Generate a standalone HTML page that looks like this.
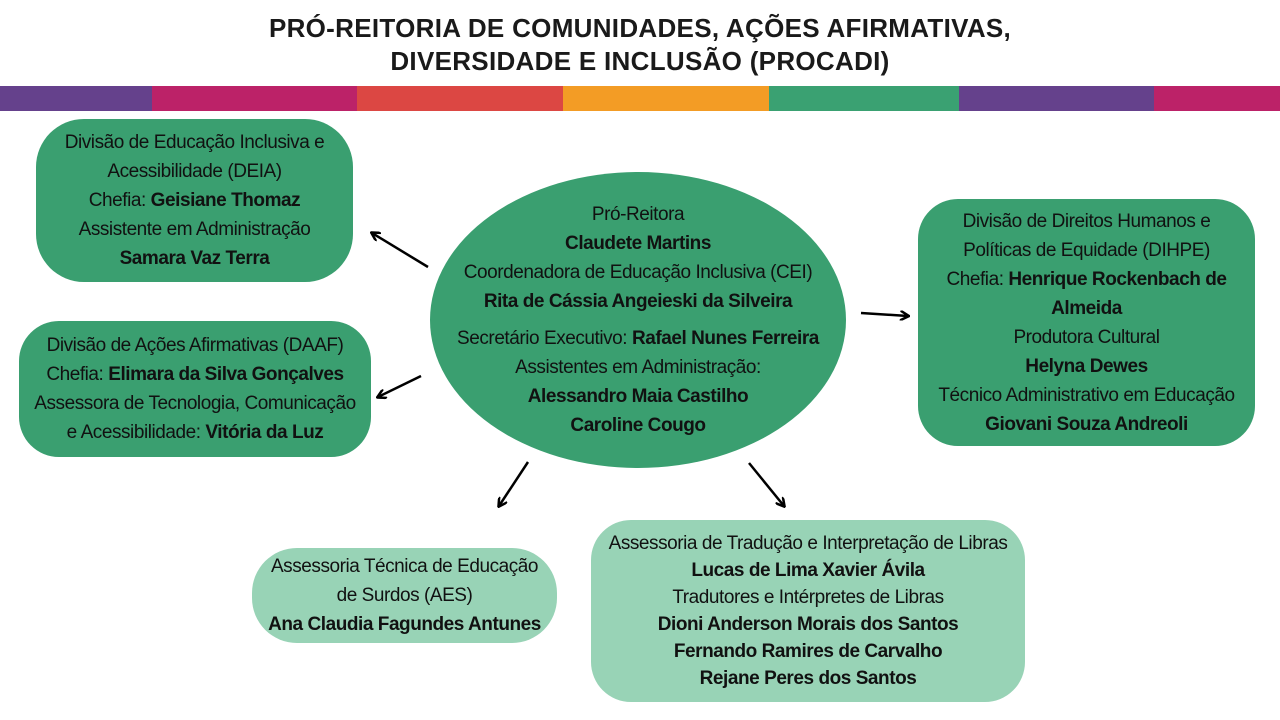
<!DOCTYPE html>
<html><head><meta charset="utf-8"><style>
body{margin:0;width:1280px;height:720px;background:#fff;position:relative;overflow:hidden;font-family:"Liberation Sans",sans-serif;}
.t{position:absolute;left:0;width:1280px;text-align:center;font-weight:bold;font-size:26px;color:#1a1a1a;line-height:33px;top:12px;letter-spacing:0.3px}
.bar{position:absolute;top:86px;height:25px}
.b{position:absolute;background:#3a9f70;color:#111;text-align:center;font-size:19px;display:flex;flex-direction:column;justify-content:center;align-items:center;letter-spacing:-0.45px;}
.b div{line-height:29px;white-space:nowrap}
.l{background:#98d3b6}
b{font-weight:bold}
</style></head><body>
<div class="t">PRÓ-REITORIA DE COMUNIDADES, AÇÕES AFIRMATIVAS,<br>DIVERSIDADE E INCLUSÃO (PROCADI)</div>
<div class="bar" style="left:0;width:152px;background:#65418c"></div>
<div class="bar" style="left:152px;width:205px;background:#bc2268"></div>
<div class="bar" style="left:357px;width:206px;background:#dc4743"></div>
<div class="bar" style="left:563px;width:206px;background:#f39c25"></div>
<div class="bar" style="left:769px;width:190px;background:#3aa172"></div>
<div class="bar" style="left:959px;width:195px;background:#65418c"></div>
<div class="bar" style="left:1154px;width:126px;background:#bc2268"></div>

<div class="b" style="left:36px;top:119px;width:317px;height:163px;border-radius:48px">
<div>Divisão de Educação Inclusiva e</div><div>Acessibilidade (DEIA)</div><div>Chefia: <b>Geisiane Thomaz</b></div><div>Assistente em Administração</div><div><b>Samara Vaz Terra</b></div></div>

<div class="b" style="left:19px;top:321px;width:352px;height:136px;border-radius:40px">
<div>Divisão de Ações Afirmativas (DAAF)</div><div>Chefia: <b>Elimara da Silva Gonçalves</b></div><div>Assessora de Tecnologia, Comunicação</div><div>e Acessibilidade: <b>Vitória da Luz</b></div></div>

<div class="b" style="left:430px;top:172px;width:416px;height:296px;border-radius:50%">
<div>Pró-Reitora</div><div><b>Claudete Martins</b></div><div>Coordenadora de Educação Inclusiva (CEI)</div><div><b>Rita de Cássia Angeieski da Silveira</b></div><div style="height:8px"></div><div>Secretário Executivo: <b>Rafael Nunes Ferreira</b></div><div>Assistentes em Administração:</div><div><b>Alessandro Maia Castilho</b></div><div><b>Caroline Cougo</b></div></div>

<div class="b" style="left:918px;top:199px;width:337px;height:247px;border-radius:40px">
<div>Divisão de Direitos Humanos e</div><div>Políticas de Equidade (DIHPE)</div><div>Chefia: <b>Henrique Rockenbach de</b></div><div><b>Almeida</b></div><div>Produtora Cultural</div><div><b>Helyna Dewes</b></div><div>Técnico Administrativo em Educação</div><div><b>Giovani Souza Andreoli</b></div></div>

<div class="b l" style="left:252px;top:548px;width:305px;height:95px;border-radius:45px">
<div>Assessoria Técnica de Educação</div><div>de Surdos (AES)</div><div><b>Ana Claudia Fagundes Antunes</b></div></div>

<div class="b l" style="left:591px;top:520px;width:434px;height:182px;border-radius:40px">
<div style="line-height:27px">Assessoria de Tradução e Interpretação de Libras</div><div style="line-height:27px"><b>Lucas de Lima Xavier Ávila</b></div><div style="line-height:27px">Tradutores e Intérpretes de Libras</div><div style="line-height:27px"><b>Dioni Anderson Morais dos Santos</b></div><div style="line-height:27px"><b>Fernando Ramires de Carvalho</b></div><div style="line-height:27px"><b>Rejane Peres dos Santos</b></div></div>

<svg width="1280" height="720" style="position:absolute;left:0;top:0">
<defs><marker id="a" markerWidth="10" markerHeight="10" refX="8" refY="5" orient="auto" markerUnits="userSpaceOnUse"><path d="M0,0 L9,5 L0,10" fill="none" stroke="#000" stroke-width="2.5"/></marker></defs>
<g stroke="#000" stroke-width="2.5" fill="none" marker-end="url(#a)">
<line x1="428" y1="267" x2="372" y2="233"/>
<line x1="421" y1="376" x2="378" y2="397"/>
<line x1="861" y1="313" x2="908" y2="316"/>
<line x1="528" y1="462" x2="499" y2="506"/>
<line x1="749" y1="463" x2="784" y2="506"/>
</g></svg>
</body></html>
